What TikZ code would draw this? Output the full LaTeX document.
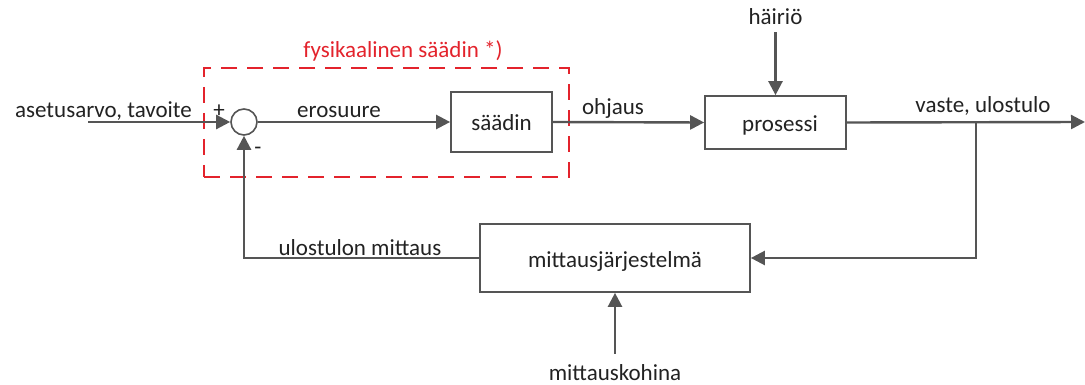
\documentclass[tikz,border=0pt]{standalone}
\usepackage{fontspec}
\setmainfont{Carlito}
\usetikzlibrary{arrows.meta}
\definecolor{ln}{HTML}{555555}
\definecolor{rd}{HTML}{E3232C}
\definecolor{tx}{HTML}{222222}
\begin{document}
\begin{tikzpicture}[x=1pt,y=-1pt,
  font=\fontsize{23}{27}\selectfont, text=tx,
  conn/.style={draw=ln, line width=2.4pt, -{Triangle[length=14pt,width=14pt]}},
  blk/.style={draw=ln, line width=1.7pt, fill=white, inner sep=0pt, anchor=center, text height=18pt, text depth=0pt},
  lbl/.style={anchor=base, inner sep=0pt},
  grp/.style={draw=rd, line width=2.6pt, dash pattern=on 16pt off 10pt}]
\useasboundingbox (0,0) rectangle (1085,385);

% red group box
\node[grp, minimum width=365pt, minimum height=109pt, inner sep=0pt] (grpbox) at (386.5,122.5) {};
\node[lbl, text=rd] (grplabel) at (403,58) {fysikaalinen säädin *)};

% blocks
\node[circle, draw=ln, line width=1.6pt, minimum size=26pt, inner sep=0pt, fill=white] (sum) at (244,122) {};
\node[blk, minimum width=101pt, minimum height=60pt] (ctrl) at (501.5,122) {säädin};
\node[blk, minimum width=141pt, minimum height=53pt] (proc) at (775.5,122.5) {\hspace{9pt}prosessi};
\node[blk, minimum width=270pt, minimum height=68pt] (meas) at (615,258) {mittausjärjestelmä};

% texts
\node[lbl] (inlabel) at (103.5,118) {asetusarvo, tavoite};
\node[lbl] (plus) at (219,118) {+};
\node[lbl] (minus) at (258,155) {-};
\node[lbl] (err) at (339,118) {erosuure};
\node[lbl] (ctl) at (613,115) {ohjaus};
\node[lbl] (resp) at (983,113) {vaste, ulostulo};
\node[lbl] (fb) at (360,255) {ulostulon mittaus};
\node[lbl] (dist) at (775.5,25) {häiriö};
\node[lbl] (noise) at (615,380) {mittauskohina};

% coordinates
\coordinate (in) at (88,122);
\coordinate (out) at (1085,122);
\coordinate (br) at (976,122);

% connectors
\draw[conn] (in) -- (sum.west);
\draw[conn] (sum.east) -- (ctrl.west);
\draw[conn] (ctrl.east) -- (proc.west);
\draw[conn] (proc.east) -- (out);
\draw[conn] (br) |- (meas.east);
\draw[conn] (meas.west) -| (sum.south);
\draw[conn, shorten <=7pt] (dist.south) -- (proc.north);
\draw[conn, shorten <=10pt] (noise.north) -- (meas.south);
\end{tikzpicture}
\end{document}
